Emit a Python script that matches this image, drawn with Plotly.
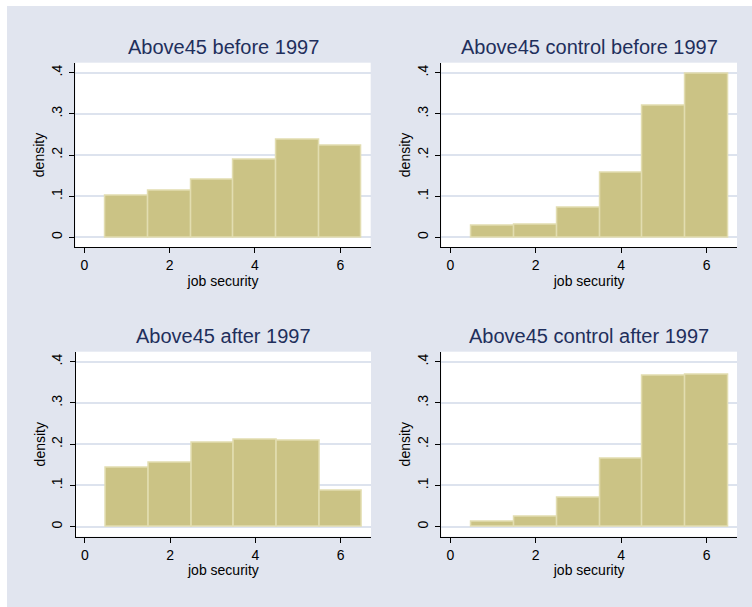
import plotly.graph_objects as go

# ---- data ----
bins = [1, 2, 3, 4, 5, 6]
above45_before = [0.101, 0.114, 0.140, 0.189, 0.236, 0.2235]
control_before = [0.027, 0.031, 0.073, 0.158, 0.321, 0.397]
above45_after = [0.144, 0.154, 0.204, 0.212, 0.208, 0.087]
control_after = [0.013, 0.024, 0.071, 0.165, 0.367, 0.368]
titles = ["Above45 before 1997", "Above45 control before 1997",
          "Above45 after 1997", "Above45 control after 1997"]
x_ticks = [0, 2, 4, 6]
y_ticks = [0, 0.1, 0.2, 0.3, 0.4]
y_tick_text = ["0", ".1", ".2", ".3", ".4"]
x_label = "job security"
y_label = "density"

series = [above45_before, control_before, above45_after, control_after]

W, H = 752, 607
BG = "#e1e5ef"
BAR = "#cbc385"
BAR_LINE = "#e2ddb0"
GRID = "#dde3ee"
TITLE_C = "#1f2f5c"
FONT = "Liberation Sans, Arial, sans-serif"

# panel pixel boxes (left, right, top, bottom)
boxes = [
    (75.3, 370.7, 62.7, 247.3),
    (441.3, 737.0, 62.7, 247.3),
    (75.8, 371.0, 351.7, 536.7),
    (441.3, 737.0, 351.7, 536.7),
]

fig = go.Figure()
layout = dict(
    width=W, height=H,
    margin=dict(l=0, r=0, t=0, b=0),
    paper_bgcolor=BG, plot_bgcolor="white",
    showlegend=False,
    font=dict(family=FONT, size=14, color="black"),
    bargap=0,
)
annotations = []
for i, (vals, (l, r, t, b)) in enumerate(zip(series, boxes)):
    n = "" if i == 0 else str(i + 1)
    fig.add_trace(go.Bar(
        x=bins, y=vals, width=1,
        marker=dict(color=BAR, line=dict(color=BAR_LINE, width=1.5)),
        xaxis="x" + n, yaxis="y" + n,
        hoverinfo="x+y",
    ))
    layout["xaxis" + n] = dict(
        domain=[l / W, r / W], range=[-0.211, 6.712],
        anchor="y" + n, tickvals=x_ticks, ticks="outside", ticklen=5,
        tickcolor="black", showline=True, linecolor="black", linewidth=1,
        showgrid=False, zeroline=False, fixedrange=True,
        tickfont=dict(size=14, color="black"),
        title=dict(text=x_label, font=dict(size=14, color="black"), standoff=3),
    )
    layout["yaxis" + n] = dict(
        domain=[1 - b / H, 1 - t / H], range=[-0.0243, 0.4243],
        anchor="x" + n, tickvals=y_ticks, ticktext=y_tick_text,
        ticks="outside", ticklen=5, tickcolor="black", tickangle=-90,
        ticklabelstandoff=2,
        showline=True, linecolor="black", linewidth=1,
        showgrid=True, gridcolor=GRID, gridwidth=1.5, zeroline=False,
        fixedrange=True, tickfont=dict(size=14, color="black"),
        title=dict(text=y_label, font=dict(size=14, color="black"), standoff=0),
    )
    annotations.append(dict(
        text=titles[i], xref="paper", yref="paper",
        x=(l + r) / 2 / W, y=1 - (t - 16) / H,
        xanchor="center", yanchor="middle", showarrow=False,
        font=dict(size=20, color=TITLE_C, family=FONT),
    ))

layout["annotations"] = annotations
layout["shapes"] = [
    dict(type="rect", xref="paper", yref="paper", x0=0, x1=7 / W, y0=0, y1=1,
         fillcolor="white", line=dict(width=0), layer="below"),
    dict(type="rect", xref="paper", yref="paper", x0=0, x1=1, y0=1 - 6 / H, y1=1,
         fillcolor="white", line=dict(width=0), layer="below"),
]
fig.update_layout(**layout)
fig.write_html("out.html")
